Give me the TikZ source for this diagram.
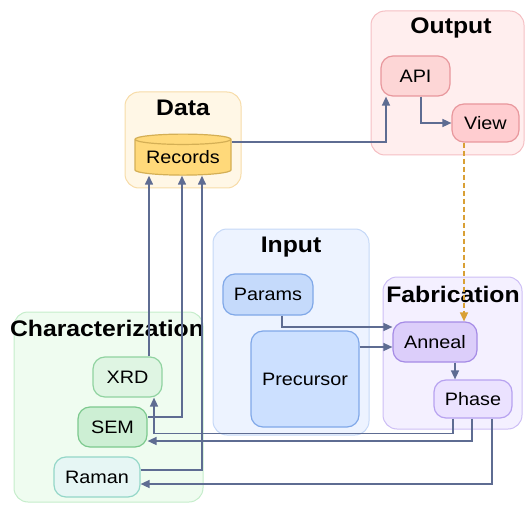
\documentclass[tikz,border=0pt]{standalone}
\usepackage{fontspec}
\setmainfont[FakeStretch=1.1]{Liberation Sans}
\usetikzlibrary{arrows.meta, positioning, shapes.geometric}

\definecolor{datafill}{HTML}{FFF7E6}
\definecolor{dataline}{HTML}{F7DCA8}
\definecolor{recfill}{HTML}{FFD97A}
\definecolor{recline}{HTML}{D4AF55}
\definecolor{outfill}{HTML}{FFEEEE}
\definecolor{outline}{HTML}{F5BFC3}
\definecolor{apifill}{HTML}{FDD6D6}
\definecolor{viewfill}{HTML}{FFCDD0}
\definecolor{redline}{HTML}{E8979C}
\definecolor{inpfill}{HTML}{EDF3FF}
\definecolor{inpline}{HTML}{C5D8F7}
\definecolor{parfill}{HTML}{C5DAFB}
\definecolor{prefill}{HTML}{CCE0FF}
\definecolor{blueline}{HTML}{80A8E8}
\definecolor{fabfill}{HTML}{F4F0FF}
\definecolor{fabline}{HTML}{CDBEF5}
\definecolor{annfill}{HTML}{DCCEFA}
\definecolor{annline}{HTML}{A58BE6}
\definecolor{phafill}{HTML}{EBE2FF}
\definecolor{phaline}{HTML}{B7A2F0}
\definecolor{charfill}{HTML}{EFFCF0}
\definecolor{charline}{HTML}{C5EDCB}
\definecolor{xrdfill}{HTML}{DFF5E3}
\definecolor{xrdline}{HTML}{90D3A0}
\definecolor{semfill}{HTML}{CDEFD4}
\definecolor{semline}{HTML}{7CC98E}
\definecolor{ramfill}{HTML}{E6F6F4}
\definecolor{ramline}{HTML}{94D7C8}
\definecolor{linkc}{HTML}{5E6C92}
\definecolor{dashc}{HTML}{D9A035}

\begin{document}
\begin{tikzpicture}[%
        x=1pt, y=-1pt,
        group/.style={draw, rounded corners=14pt, line width=1pt, inner sep=0pt},
        box/.style={draw, rounded corners=12pt, line width=1.2pt, inner sep=0pt,
            font=\fontsize{18}{20}\selectfont},
        title/.style={font=\fontsize{22.5}{26}\selectfont\bfseries},
        link/.style={draw=linkc, line width=1.5pt, -{Triangle[length=9pt, width=8pt]}},
        feed/.style={draw=dashc, line width=1.5pt, dash pattern=on 5pt off 3pt,
            -{Triangle[length=9pt, width=8pt]}}
    ]
    \useasboundingbox (0,0) rectangle (527,505);

    % --- Groups ---
    \node[group, fill=datafill, draw=dataline, minimum width=116pt, minimum height=96pt] (datagrp) at (183,140) {};
    \node[group, fill=outfill, draw=outline, minimum width=153pt, minimum height=144pt] (outgrp) at (447.5,83) {};
    \node[group, fill=inpfill, draw=inpline, minimum width=156pt, minimum height=206pt] (inpgrp) at (291,332) {};
    \node[group, fill=fabfill, draw=fabline, minimum width=139pt, minimum height=152pt] (fabgrp) at (452.5,353) {};
    \node[group, fill=charfill, draw=charline, minimum width=189pt, minimum height=190pt] (chargrp) at (108.5,407) {};

    \node[title] (datatitle) at (183,108) {Data};
    \node[title] (outtitle) at (451,28) {Output};
    \node[title] (inptitle) at (291,247) {Input};
    \node[title] (fabtitle) at (453,294) {Fabrication};
    \node[title] (chartitle) at (107,328) {Characterization};

    % --- Nodes ---
    \node[cylinder, shape border rotate=90, aspect=0.14, draw=recline, fill=recfill, line width=1.2pt,
        minimum width=96pt, minimum height=41pt, inner sep=0pt,
        font=\fontsize{18}{20}\selectfont] (Records) at (183,157.5) {Records};

    \node[box, fill=apifill, draw=redline, minimum width=69pt, minimum height=40pt] (API) at (415.5,76) {API};
    \node[box, fill=viewfill, draw=redline, minimum width=67pt, minimum height=38pt] (View) at (485.5,123) {View};

    \node[box, fill=parfill, draw=blueline, minimum width=90pt, minimum height=41pt] (Params) at (268,294.5) {Params};
    \node[box, fill=prefill, draw=blueline, minimum width=108pt, minimum height=96pt] (Precursor) at (305,379) {Precursor};

    \node[box, fill=annfill, draw=annline, minimum width=84pt, minimum height=40pt] (Anneal) at (435,342) {Anneal};
    \node[box, fill=phafill, draw=phaline, minimum width=78pt, minimum height=38pt] (Phase) at (473,399) {Phase};

    \node[box, fill=xrdfill, draw=xrdline, minimum width=69pt, minimum height=40pt] (XRD) at (127.5,377) {XRD};
    \node[box, fill=semfill, draw=semline, minimum width=69pt, minimum height=40pt] (SEM) at (112.5,427) {SEM};
    \node[box, fill=ramfill, draw=ramline, minimum width=86pt, minimum height=40pt] (Raman) at (97,477) {Raman};

    % --- Links ---
    \draw[link] ([yshift=15.5pt]Records.east) -| ([xshift=-29.5pt]API.south);
    \draw[link] ([xshift=5.5pt]API.south) |- (View.west);
    \draw[feed] ([xshift=-21.5pt]View.south) -- ([xshift=29pt]Anneal.north);

    \draw[link] ([xshift=14pt]Params.south) |- ([yshift=15pt]Anneal.west);
    \draw[link] ([yshift=32pt]Precursor.east) -- ([yshift=-5pt]Anneal.west);
    \draw[link] ([xshift=20pt]Anneal.south) -- ([xshift=-18pt]Phase.north);

    \draw[link] ([xshift=-20pt]Phase.south) -- ++(0,15) -| ([xshift=26.5pt]XRD.south);
    \draw[link] ([xshift=-1pt]Phase.south) |- ([yshift=-14pt]SEM.east);
    \draw[link] ([xshift=19pt]Phase.south) |- ([yshift=-7pt]Raman.east);

    \draw[link] ([xshift=21.5pt]XRD.north) -- ([xshift=-34pt]Records.south);
    \draw[link] ([yshift=10pt]SEM.east) -| ([xshift=-1pt]Records.south);
    \draw[link] ([yshift=7pt]Raman.east) -| ([xshift=19pt]Records.south);
\end{tikzpicture}
\end{document}
